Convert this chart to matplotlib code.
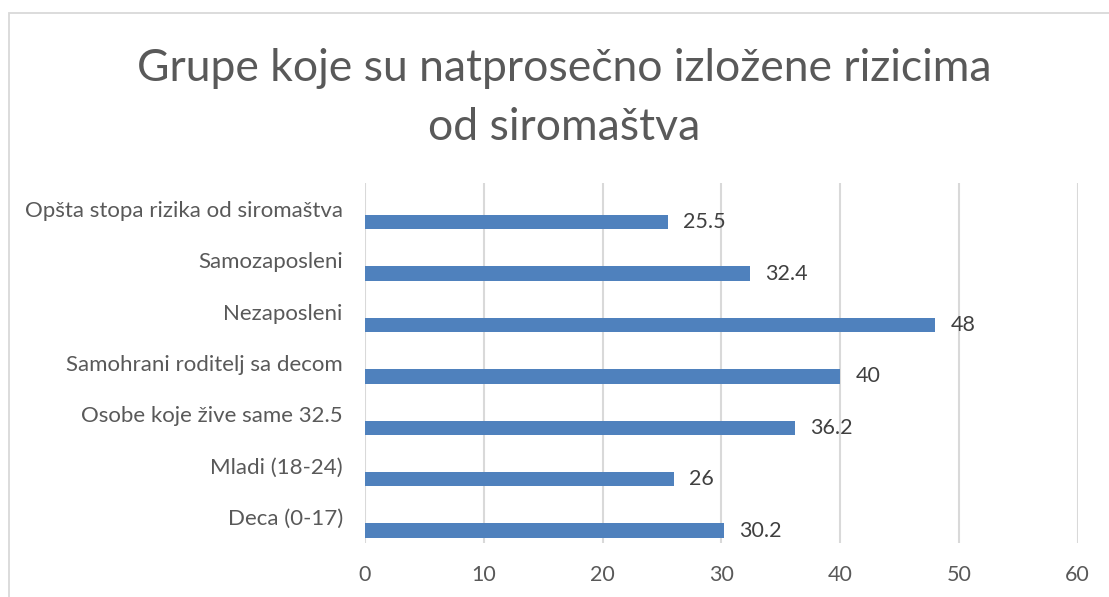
import matplotlib
matplotlib.use("Agg")
import matplotlib.pyplot as plt
from matplotlib.patches import Rectangle

categories = [
    "Opšta stopa rizika od siromaštva",
    "Samozaposleni",
    "Nezaposleni",
    "Samohrani roditelj sa decom",
    "Osobe koje žive same 32.5",
    "Mladi (18-24)",
    "Deca (0-17)",
]
values = [25.5, 32.4, 48, 40, 36.2, 26, 30.2]
value_labels = ["25.5", "32.4", "48", "40", "36.2", "26", "30.2"]
x_ticks = [0, 10, 20, 30, 40, 50, 60]
title = "Grupe koje su natprosečno izložene rizicima\nod siromaštva"

plt.rcParams["font.family"] = ["Lato", "DejaVu Sans"]
TEXT = "#595959"
GRID = "#D9D9D9"
BAR = "#4F81BD"

W, H = 1109, 597
fig = plt.figure(figsize=(W / 100, H / 100), dpi=100)
fig.patch.set_facecolor("white")

# light chart-area frame
fig.add_artist(Rectangle((9 / W, -0.1), 1.2, 1 - 13 / H + 0.1, transform=fig.transFigure,
                         fill=False, edgecolor=GRID, linewidth=1.3))

ax = fig.add_axes([365 / W, 1 - 543 / H, (1077.7 - 365) / W, (543 - 183) / H])

pos = list(range(len(categories)))
bar_pos = [p + 0.26 for p in pos]
ax.barh(bar_pos, values, height=0.28, color=BAR, zorder=3)
for y, v, lab in zip(bar_pos, values, value_labels):
    ax.text(v + 1.3, y, lab, va="center", ha="left", fontsize=15.5, color="#404040")

ax.set_xlim(0, 60)
ax.set_ylim(len(categories) - 0.5, -0.5)
ax.set_xticks(x_ticks)
ax.set_xticklabels([str(t) for t in x_ticks])
ax.set_yticks(pos)
ax.set_yticklabels(categories)
ax.tick_params(axis="both", length=0, colors=TEXT, labelsize=15.5)
ax.tick_params(axis="y", labelsize=16)
ax.tick_params(axis="x", pad=16)
ax.tick_params(axis="y", pad=16)
ax.grid(axis="x", color=GRID, linewidth=1.5, zorder=0)
for s in ax.spines.values():
    s.set_visible(False)

fig.text(564 / W, 1 - 98 / H, title, ha="center", va="center", fontsize=32,
         color=TEXT, linespacing=1.55)

fig.savefig("out.png", dpi=100)
